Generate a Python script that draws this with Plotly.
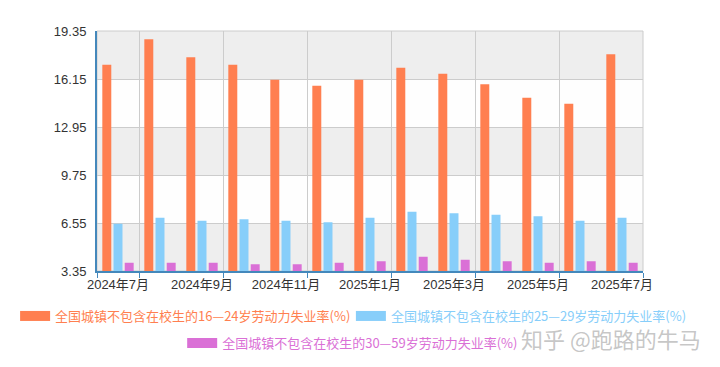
import plotly.graph_objects as go

months = ["2024年7月", "2024年8月", "2024年9月", "2024年10月", "2024年11月", "2024年12月",
          "2025年1月", "2025年2月", "2025年3月", "2025年4月", "2025年5月", "2025年6月", "2025年7月"]
rate_16_24 = [17.1, 18.8, 17.6, 17.1, 16.1, 15.7, 16.1, 16.9, 16.5, 15.8, 14.9, 14.5, 17.8]
rate_25_29 = [6.5, 6.9, 6.7, 6.8, 6.7, 6.6, 6.9, 7.3, 7.2, 7.1, 7.0, 6.7, 6.9]
rate_30_59 = [3.9, 3.9, 3.9, 3.8, 3.8, 3.9, 4.0, 4.3, 4.1, 4.0, 3.9, 4.0, 3.9]
names = ["全国城镇不包含在校生的16—24岁劳动力失业率(%)",
         "全国城镇不包含在校生的25—29岁劳动力失业率(%)",
         "全国城镇不包含在校生的30—59岁劳动力失业率(%)"]
colors = ["#ff7f50", "#87cefa", "#da70d6"]
y_ticks = [3.35, 6.55, 9.75, 12.95, 16.15, 19.35]

idx = list(range(len(months)))
label_idx = idx[::2]
label_text = [months[i] for i in label_idx]
boundary_ticks = [-0.5] + [i + 0.5 for i in label_idx]

FONT = "Liberation Sans, Arial, Noto Sans CJK SC, sans-serif"
CJK = "Noto Sans CJK SC, sans-serif"

fig = go.Figure()
series = [rate_16_24, rate_25_29, rate_30_59]
legends = ["legend", "legend2", "legend3"]
for k, (vals, name, col, lg) in enumerate(zip(series, names, colors, legends)):
    fig.add_trace(go.Bar(
        x=idx, y=vals, name=name,
        marker=dict(color=col, line=dict(width=0)),
        legendgroup=f"g{k}", showlegend=False, hoverinfo="y",
    ))
# legend entries (wide rectangle key like the original)
for k, (name, col, lg) in enumerate(zip(names, colors, legends)):
    fig.add_trace(go.Scatter(
        x=[None], y=[None], mode="lines",
        name=f"<span style='color:{col}'>{name}</span>",
        line=dict(color=col, width=12),
        legendgroup=f"g{k}", legend=lg, showlegend=True, hoverinfo="skip",
    ))

# alternating bands
shapes = []
for k in range(len(y_ticks) - 1):
    shapes.append(dict(type="rect", xref="paper", yref="y", x0=0, x1=1,
                       y0=y_ticks[k], y1=y_ticks[k + 1], layer="below",
                       line=dict(width=0),
                       fillcolor="#eeeeee" if k % 2 == 0 else "#fefefe"))
# plot border
shapes.append(dict(type="rect", xref="paper", yref="paper", x0=0, x1=1, y0=0, y1=1,
                   layer="below", line=dict(color="#cccccc", width=1), fillcolor="rgba(0,0,0,0)"))

leg_common = dict(orientation="h", xref="paper", yref="paper", xanchor="left",
                  yanchor="middle", font=dict(family=CJK, size=13),
                  bgcolor="rgba(0,0,0,0)", itemclick=False, itemdoubleclick=False)

# page body has an 8px default margin -> figure is 712x359 so the plot sits where the original does
fig.update_layout(
    width=712, height=359,
    margin=dict(l=89, r=77, t=23, b=96, autoexpand=False),
    paper_bgcolor="white", plot_bgcolor="white",
    barmode="group", bargap=0.2, bargroupgap=0.2,
    showlegend=True,
    shapes=shapes,
    xaxis=dict(
        range=[-0.5, len(months) - 0.5],
        tickmode="array", tickvals=boundary_ticks, showticklabels=False,
        ticks="outside", ticklen=5, tickcolor="#4488bb", tickwidth=1,
        showgrid=True, gridcolor="#cccccc", gridwidth=1,
        showline=True, linecolor="#4488bb", linewidth=2,
        zeroline=False,
    ),
    xaxis2=dict(
        overlaying="x", side="bottom", matches="x",
        range=[-0.5, len(months) - 0.5],
        tickmode="array", tickvals=label_idx, ticktext=label_text,
        ticks="", showgrid=False, showline=False, zeroline=False,
        tickfont=dict(family=FONT, size=13, color="#333333"),
        ticklabelstandoff=4,
    ),
    yaxis=dict(
        range=[y_ticks[0], y_ticks[-1]],
        tickmode="array", tickvals=y_ticks, ticktext=[f"{v:.2f}" for v in y_ticks],
        tickfont=dict(family=FONT, size=13, color="#333333"),
        showgrid=True, gridcolor="#cccccc", gridwidth=1,
        showline=True, linecolor="#4488bb", linewidth=2,
        ticks="", zeroline=False, ticklabelstandoff=6,
    ),
    legend=dict(x=-0.150, y=-0.1875, **leg_common),
    legend2=dict(x=0.465, y=-0.1875, **leg_common),
    legend3=dict(x=0.156, y=-0.30, **leg_common),
    annotations=[dict(
        text="知乎 @跑路的牛马", xref="paper", yref="paper",
        x=0.941, y=-0.278, xanchor="center", yanchor="middle", showarrow=False,
        font=dict(family=CJK, size=22, color="rgba(150,150,150,0.55)"),
    )],
)
# invisible trace on xaxis2 so it renders
fig.add_trace(go.Scatter(x=[idx[0]], y=[y_ticks[0]], xaxis="x2", mode="markers",
                         marker=dict(opacity=0), showlegend=False, hoverinfo="skip"))

fig.write_html("out.html")
